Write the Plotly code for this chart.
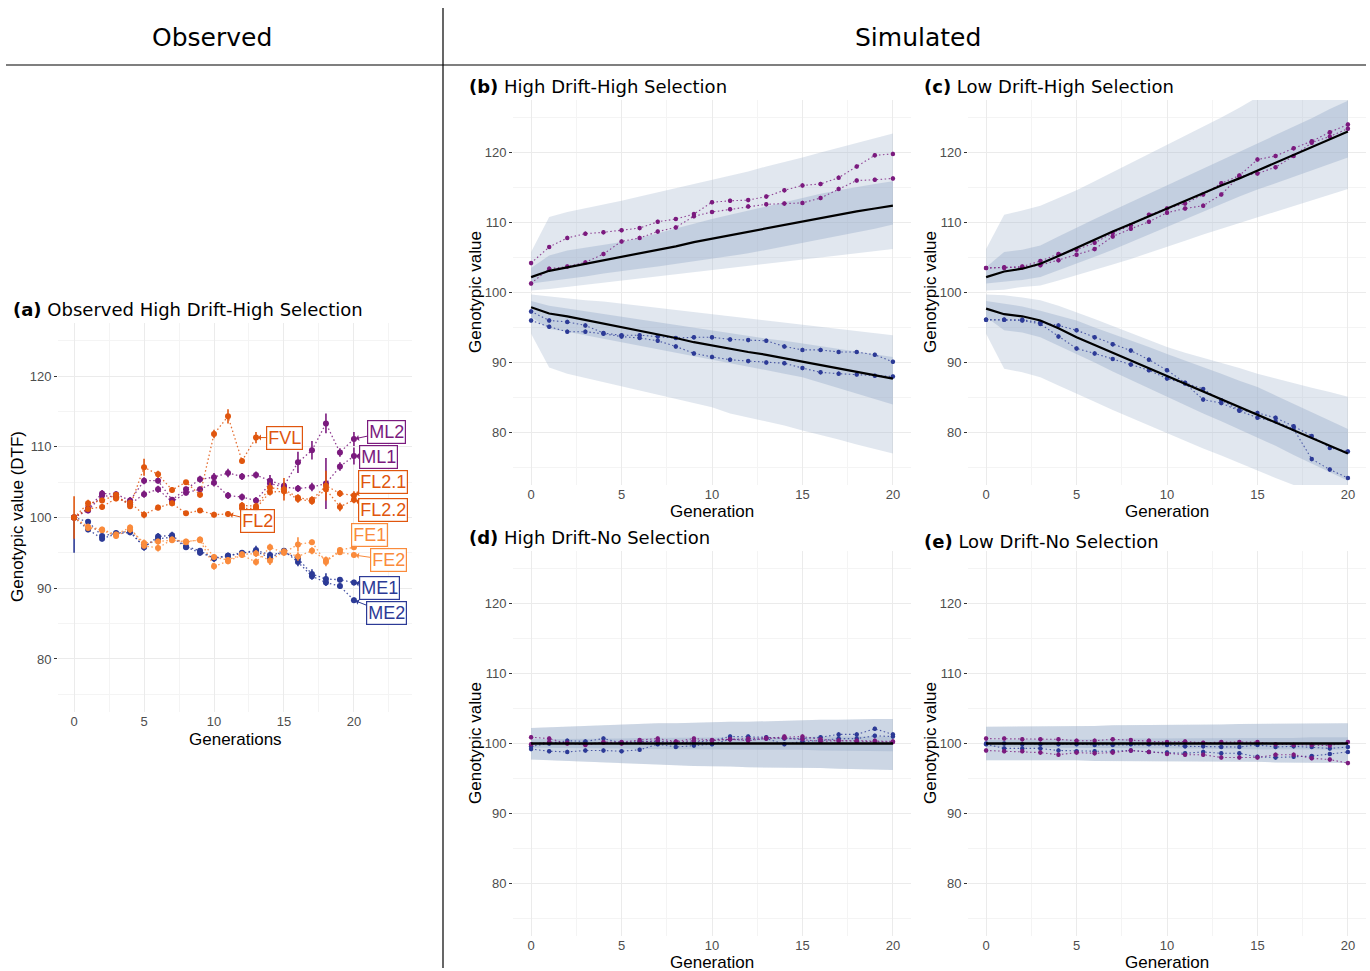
import plotly.graph_objects as go

W, H = 1370, 971

generations = [0, 1, 2, 3, 4, 5, 6, 7, 8, 9, 10, 11, 12, 13, 14, 15, 16, 17, 18, 19, 20]

# ---------------- Panel (a): observed ----------------
ML2 = [100, 101.3, 103.4, 103.3, 102.4, 105.2, 105.2, 102.5, 104.0, 105.4, 105.7, 106.3, 105.8, 106.0, 105.2, 104.5, 107.8, 109.5, 113.3, 109.2, 111.1]
ML2_err = [0.3, 0.4, 0.5, 0.4, 0.5, 0.5, 0.4, 0.4, 0.4, 0.5, 0.6, 0.6, 0.5, 0.5, 0.8, 0.5, 1.5, 1.3, 1.4, 0.6, 1.0]
ML1 = [100, 101.0, 103.1, 102.9, 101.9, 103.3, 104.0, 102.2, 103.5, 104.0, 104.9, 103.1, 102.9, 102.4, 104.8, 104.3, 104.1, 104.3, 104.8, 107.2, 108.7]
ML1_err = [0.3, 0.4, 0.5, 0.4, 0.4, 0.5, 0.5, 0.4, 0.4, 0.4, 0.5, 0.5, 0.5, 0.5, 0.6, 0.5, 0.5, 0.6, 3.6, 0.6, 1.2]
FVL = [100, 102.0, 102.4, 103.2, 101.6, 107.1, 106.1, 103.9, 105.0, 103.2, 111.8, 114.3, 108.0, 111.3]
FVL_err = [3.0, 0.5, 0.4, 0.4, 0.4, 1.2, 0.5, 0.4, 0.3, 0.4, 0.6, 1.0, 0.4, 0.8]
FL2 = [100, 101.2, 101.5, 102.7, 102.1, 100.4, 101.4, 102.0, 100.6, 101.0, 100.4, 100.5]
FL2_err = [0.3, 0.4, 0.4, 0.4, 0.4, 0.5, 0.4, 0.4, 0.3, 0.3, 0.4, 0.4]
FL2_1 = [101.7, 101.6, 104.2, 104.0, 102.8, 102.5, 104.5, 103.4, 103.1]
FL2_1_err = [0.5, 0.5, 0.7, 1.6, 0.5, 0.5, 2.1, 0.5, 0.6]
FL2_2 = [101.3, 101.3, 103.6, 103.7, 102.6, 102.3, 104.0, 101.5, 102.5]
FL2_2_err = [0.5, 0.5, 0.5, 0.6, 0.5, 0.5, 0.8, 0.6, 0.5]
FE1 = [100, 98.5, 98.2, 97.4, 98.3, 96.4, 96.6, 96.8, 96.6, 96.8, 93.1, 93.8, 94.7, 93.7, 95.8, 95.0, 96.2, 96.5, 93.7, 95.4, 95.8]
FE1_err = [0.3, 0.4, 0.4, 0.4, 0.5, 0.5, 0.4, 0.4, 0.4, 0.4, 0.5, 0.4, 0.4, 0.5, 0.5, 0.4, 1.0, 0.4, 0.6, 0.4, 0.4]
FE2 = [100, 98.7, 98.3, 97.6, 98.6, 96.0, 95.7, 96.9, 96.5, 96.9, 94.4, 94.0, 94.8, 94.9, 93.9, 95.2, 94.5, 95.3, 94.0, 95.1, 94.7]
FE2_err = [0.3, 0.4, 0.4, 0.4, 0.4, 0.4, 0.5, 0.4, 0.4, 0.4, 0.4, 0.4, 0.4, 0.5, 0.6, 0.4, 0.6, 0.5, 0.5, 0.4, 0.4]
ME1 = [100, 99.4, 97.4, 97.8, 98.1, 95.8, 97.3, 97.5, 95.9, 95.3, 94.2, 94.6, 94.9, 95.4, 94.7, 95.1, 94.2, 92.0, 91.3, 91.2, 90.8]
ME1_err = [0.3, 0.4, 0.5, 0.4, 0.4, 0.5, 0.5, 0.5, 0.4, 0.4, 0.5, 0.4, 0.4, 0.6, 0.5, 0.4, 0.5, 0.7, 0.8, 0.4, 0.4]
ME1_err_minus = [5.0, 0.4, 0.5, 0.4, 0.4, 0.5, 0.5, 0.5, 0.4, 0.4, 0.5, 0.4, 0.4, 0.6, 0.5, 0.4, 0.5, 0.7, 0.8, 0.4, 0.4]
ME2 = [100, 98.3, 97.0, 97.7, 97.9, 95.9, 97.0, 97.2, 95.8, 95.0, 94.3, 94.6, 95.0, 95.2, 94.3, 95.3, 93.7, 91.7, 90.8, 90.3, 88.3]
ME2_err = [0.3, 0.4, 0.4, 0.4, 0.4, 0.4, 0.4, 0.4, 0.4, 0.4, 0.4, 0.4, 0.4, 0.4, 0.5, 0.4, 0.6, 0.5, 0.5, 0.4, 0.4]

# ---------------- Panel (b): High Drift-High Selection ----------------
b_up_mean = [102.2, 103.1, 103.6, 104.1, 104.6, 105.0, 105.6, 106.1, 106.6, 107.2, 107.7, 108.2, 108.7, 109.2, 109.7, 110.2, 110.7, 111.2, 111.6, 112.0, 112.4]
b_up_in_lo = [101.3, 101.7, 102.0, 102.3, 102.7, 103.1, 103.4, 103.7, 104.1, 104.4, 104.8, 105.2, 105.6, 106.1, 106.5, 107.0, 107.5, 108.0, 108.6, 109.1, 109.7]
b_up_in_hi = [103.5, 105.3, 106.0, 106.4, 106.8, 107.2, 107.8, 108.5, 109.2, 109.9, 110.5, 111.1, 111.7, 112.3, 113.0, 113.6, 114.1, 114.6, 115.1, 115.5, 115.9]
b_up_out_lo = [100.3, 100.5, 100.8, 101.1, 101.4, 101.7, 102.0, 102.2, 102.5, 102.8, 103.1, 103.4, 103.7, 104.0, 104.4, 104.7, 105.0, 105.3, 105.6, 105.9, 106.2]
b_up_out_hi = [105.8, 110.8, 111.5, 112.0, 112.6, 113.1, 113.7, 114.3, 114.9, 115.5, 116.0, 116.6, 117.3, 118.0, 118.6, 119.3, 120.0, 120.7, 121.4, 122.0, 122.7]
b_dn_mean = [97.9, 97.0, 96.6, 96.1, 95.5, 95.0, 94.5, 94.0, 93.5, 92.9, 92.4, 91.9, 91.5, 91.1, 90.6, 90.2, 89.7, 89.2, 88.7, 88.2, 87.7]
b_dn_in_hi = [98.8, 98.1, 97.7, 97.3, 96.9, 96.5, 96.1, 95.7, 95.3, 94.9, 94.6, 94.2, 93.8, 93.4, 93.1, 92.7, 92.3, 91.9, 91.5, 91.2, 90.8]
b_dn_in_lo = [96.5, 94.8, 94.4, 93.9, 93.4, 92.9, 92.4, 91.9, 91.4, 91.0, 90.5, 90.0, 89.4, 88.9, 88.4, 87.9, 87.2, 86.4, 85.6, 84.8, 84.0]
b_dn_out_hi = [99.7, 99.4, 99.2, 98.9, 98.7, 98.4, 98.1, 97.8, 97.6, 97.3, 97.0, 96.7, 96.4, 96.1, 95.8, 95.5, 95.2, 94.9, 94.6, 94.2, 93.9]
b_dn_out_lo = [94.1, 89.3, 88.4, 87.7, 87.1, 86.5, 85.9, 85.4, 84.8, 84.2, 83.6, 82.7, 82.2, 81.6, 81.0, 80.3, 79.6, 79.0, 78.3, 77.6, 77.0]
b_late1 = [104.2, 106.5, 107.8, 108.4, 108.6, 108.9, 109.2, 110.1, 110.5, 111.2, 112.9, 113.1, 113.2, 113.7, 114.6, 115.3, 115.5, 116.4, 118.0, 119.6, 119.8]
b_late2 = [101.3, 103.4, 103.7, 104.3, 105.5, 107.3, 107.8, 108.7, 109.3, 110.9, 111.5, 111.9, 112.3, 112.6, 112.7, 112.8, 113.5, 114.8, 116.0, 116.1, 116.3]
b_early1 = [97.3, 96.0, 95.8, 95.3, 94.2, 93.9, 93.9, 93.7, 93.5, 93.6, 93.6, 93.3, 93.2, 93.1, 92.3, 91.8, 91.8, 91.5, 91.5, 91.1, 90.1]
b_early2 = [96.0, 95.1, 94.4, 94.4, 94.1, 93.7, 93.5, 93.1, 92.3, 91.3, 90.8, 90.4, 90.2, 90.0, 89.9, 89.2, 88.6, 88.4, 88.3, 88.1, 88.0]

# ---------------- Panel (c): Low Drift-High Selection ----------------
c_up_mean = [102.2, 103.0, 103.4, 104.1, 105.2, 106.4, 107.5, 108.7, 109.8, 110.9, 112.1, 113.1, 114.2, 115.3, 116.3, 117.4, 118.5, 119.6, 120.7, 121.9, 123.0]
c_up_in_lo = [101.3, 101.5, 101.8, 102.2, 103.1, 104.1, 105.1, 106.1, 107.2, 108.2, 109.3, 110.4, 111.5, 112.6, 113.7, 114.7, 115.6, 116.5, 117.5, 118.4, 119.3]
c_up_in_hi = [103.6, 105.8, 106.1, 106.7, 108.0, 109.3, 110.5, 111.7, 112.9, 114.1, 115.3, 116.5, 117.7, 118.9, 120.1, 121.2, 122.4, 123.7, 124.9, 126.2, 127.4]
c_up_out_lo = [100.3, 100.4, 100.8, 101.0, 101.7, 102.4, 103.2, 104.0, 104.8, 105.7, 106.5, 107.4, 108.3, 109.1, 110.0, 110.8, 111.6, 112.4, 113.2, 114.0, 114.8]
c_up_out_hi = [106.2, 111.1, 111.7, 112.4, 113.5, 114.6, 115.9, 117.2, 118.5, 119.7, 121.0, 122.3, 123.6, 125.0, 126.4, 127.9, 129.2, 130.5, 131.8, 133.1, 134.4]
c_dn_mean = [97.7, 96.9, 96.6, 96.0, 94.9, 93.6, 92.5, 91.4, 90.3, 89.1, 88.0, 86.9, 85.8, 84.7, 83.7, 82.6, 81.5, 80.4, 79.3, 78.1, 77.0]
c_dn_in_hi = [98.8, 98.4, 98.0, 97.4, 96.7, 96.0, 95.0, 94.1, 93.1, 92.2, 91.2, 90.3, 89.3, 88.4, 87.4, 86.5, 85.3, 84.1, 82.9, 81.7, 80.5]
c_dn_in_lo = [96.5, 94.6, 94.3, 93.6, 92.4, 91.2, 90.0, 88.7, 87.5, 86.2, 85.0, 83.9, 82.7, 81.6, 80.4, 79.3, 78.1, 76.8, 75.6, 74.3, 73.1]
c_dn_out_hi = [99.7, 99.6, 99.3, 98.9, 98.1, 97.2, 96.2, 95.2, 94.2, 93.2, 92.2, 91.4, 90.7, 89.9, 89.2, 88.4, 87.7, 87.1, 86.4, 85.8, 85.1]
c_dn_out_lo = [94.1, 89.1, 88.6, 87.9, 86.7, 85.5, 84.4, 83.2, 82.1, 80.9, 79.8, 78.8, 77.7, 76.7, 75.6, 74.6, 73.5, 72.5, 71.4, 70.4, 69.3]
c_late1 = [103.5, 103.6, 103.7, 104.5, 105.5, 106.1, 107.1, 108.5, 109.6, 111.1, 112.0, 112.7, 114.0, 115.6, 116.7, 119.0, 119.5, 120.6, 121.6, 122.9, 124.0]
c_late2 = [103.5, 103.5, 103.6, 103.9, 104.6, 105.4, 106.2, 108.0, 109.1, 110.1, 111.4, 112.0, 112.4, 114.0, 116.6, 117.0, 117.9, 119.5, 121.4, 122.3, 123.4]
c_early1 = [96.1, 96.1, 96.1, 95.7, 95.3, 94.6, 93.6, 92.6, 91.7, 90.4, 88.9, 87.1, 86.2, 84.6, 83.2, 82.8, 82.1, 80.9, 79.5, 77.8, 77.3]
c_early2 = [96.1, 96.1, 96.0, 95.5, 93.7, 92.0, 91.3, 90.5, 89.7, 88.9, 87.7, 87.0, 84.7, 84.2, 83.1, 82.1, 81.6, 80.5, 76.2, 74.7, 73.5]

# ---------------- Panel (d): High Drift-No Selection ----------------
d_mean = [100.0, 100.0, 100.0, 100.0, 100.0, 100.0, 100.0, 100.0, 100.0, 100.0, 100.0, 100.0, 100.0, 100.0, 100.0, 100.0, 100.0, 100.0, 100.0, 100.0, 100.0]
d_out_hi = [102.2, 102.3, 102.4, 102.5, 102.6, 102.8, 102.8, 102.9, 102.9, 103.0, 103.0, 103.1, 103.1, 103.2, 103.3, 103.4, 103.4, 103.4, 103.5, 103.5, 103.5]
d_out_lo = [97.7, 97.6, 97.5, 97.4, 97.3, 97.2, 97.1, 97.0, 96.9, 96.8, 96.7, 96.7, 96.6, 96.6, 96.6, 96.5, 96.5, 96.4, 96.3, 96.3, 96.2]
d_in_hi = [100.6, 100.6, 100.7, 100.7, 100.7, 100.7, 100.8, 100.8, 100.8, 100.8, 100.8, 100.9, 100.9, 100.9, 100.9, 100.9, 101.0, 101.0, 101.0, 101.0, 101.0]
d_in_lo = [99.4, 99.4, 99.3, 99.3, 99.3, 99.3, 99.2, 99.2, 99.2, 99.2, 99.2, 99.1, 99.1, 99.1, 99.1, 99.1, 99.0, 99.0, 99.0, 98.9, 98.9]
d_late1 = [100.9, 100.7, 100.0, 99.9, 100.2, 100.2, 100.5, 100.7, 100.3, 100.7, 100.5, 100.6, 100.7, 100.8, 101.0, 101.0, 100.6, 100.4, 100.4, 100.4, 100.3]
d_late2 = [99.9, 100.2, 100.1, 99.8, 100.1, 100.0, 100.2, 100.4, 100.2, 100.4, 100.4, 100.6, 100.4, 100.7, 100.8, 100.6, 100.3, 100.4, 100.3, 100.3, 100.2]
d_early1 = [99.6, 100.0, 100.4, 100.3, 100.7, 100.1, 100.3, 100.3, 100.1, 100.2, 100.4, 101.0, 101.0, 100.9, 100.7, 100.7, 100.9, 101.3, 101.3, 102.1, 101.3]
d_early2 = [99.2, 98.9, 98.8, 99.0, 99.0, 98.9, 99.1, 99.9, 99.5, 99.7, 99.9, 100.6, 100.5, 100.7, 99.9, 100.3, 100.4, 100.7, 100.7, 101.1, 101.0]

# ---------------- Panel (e): Low Drift-No Selection ----------------
e_mean = [100.0, 100.0, 100.0, 100.0, 100.0, 100.0, 100.0, 100.0, 100.0, 100.0, 100.0, 100.0, 100.0, 100.0, 100.0, 100.0, 100.0, 100.0, 100.0, 100.0, 100.0]
e_out_hi = [102.4, 102.4, 102.4, 102.5, 102.5, 102.5, 102.5, 102.6, 102.6, 102.6, 102.7, 102.7, 102.7, 102.7, 102.8, 102.8, 102.8, 102.8, 102.9, 102.9, 102.9]
e_out_lo = [97.6, 97.6, 97.6, 97.6, 97.6, 97.6, 97.5, 97.5, 97.5, 97.5, 97.5, 97.5, 97.4, 97.4, 97.4, 97.4, 97.3, 97.3, 97.3, 97.2, 97.2]
e_in_hi = [100.5, 100.5, 100.5, 100.6, 100.6, 100.6, 100.6, 100.6, 100.7, 100.7, 100.7, 100.7, 100.7, 100.8, 100.8, 100.8, 100.8, 100.8, 100.9, 100.9, 100.9]
e_in_lo = [99.5, 99.5, 99.5, 99.4, 99.4, 99.4, 99.4, 99.4, 99.3, 99.3, 99.3, 99.3, 99.3, 99.2, 99.2, 99.2, 99.2, 99.2, 99.1, 99.1, 99.1]
e_late1 = [100.7, 100.7, 100.6, 100.6, 100.6, 100.4, 100.4, 100.6, 100.5, 100.4, 100.2, 100.3, 100.1, 100.2, 100.2, 100.2, 99.9, 99.8, 99.8, 99.7, 100.2]
e_late2 = [99.0, 98.9, 98.9, 98.7, 98.4, 98.7, 98.6, 98.7, 99.0, 98.8, 98.5, 98.4, 98.4, 98.0, 98.0, 98.0, 98.4, 98.4, 97.9, 97.7, 97.2]
e_early1 = [100.0, 100.0, 99.9, 99.9, 99.9, 99.9, 99.8, 99.8, 99.9, 99.9, 99.8, 99.6, 99.6, 99.5, 99.5, 99.8, 99.5, 99.6, 99.5, 99.3, 99.5]
e_early2 = [99.9, 99.3, 99.3, 99.3, 99.0, 98.9, 98.9, 98.9, 99.0, 98.8, 98.7, 98.6, 98.8, 98.6, 98.6, 98.1, 98.0, 98.1, 98.2, 98.5, 98.8]

# ---------------- styling ----------------
PURPLE = "#7B1A7E"
BLUE = "#2C3A96"
DORANGE = "#E0560E"
LORANGE = "#FA8B3C"
BAND_OUT = "rgba(155,175,202,0.30)"
BAND_IN = "rgba(155,175,202,0.42)"
SANS = "Liberation Sans"
DJV = "DejaVu Sans"
DOTS = "1.5px,2.5px"


def rgba(hexc, a):
    h = hexc.lstrip("#")
    return "rgba(%d,%d,%d,%.2f)" % (int(h[0:2], 16), int(h[2:4], 16), int(h[4:6], 16), a)


def px_x(p):
    return p / W


def px_y(p):
    return 1 - p / H


fig = go.Figure()


def obs_series(x, y, err, color, err_minus=None):
    ey = dict(type="data", array=err, color=color, thickness=1.6, width=0)
    if err_minus is not None:
        ey["symmetric"] = False
        ey["arrayminus"] = err_minus
    fig.add_trace(go.Scatter(
        x=x, y=y, mode="lines+markers",
        line=dict(color=rgba(color, 0.85), width=1.3, dash=DOTS),
        marker=dict(color=color, size=6),
        error_y=ey, xaxis="x", yaxis="y",
        showlegend=False, hoverinfo="skip"))


obs_series(generations, ME2, ME2_err, BLUE)
obs_series(generations, ME1, ME1_err, BLUE, ME1_err_minus)
obs_series(generations, FE2, FE2_err, LORANGE)
obs_series(generations, FE1, FE1_err, LORANGE)
obs_series(generations, ML1, ML1_err, PURPLE)
obs_series(generations, ML2, ML2_err, PURPLE)
obs_series(generations[12:], FL2_2, FL2_2_err, DORANGE)
obs_series(generations[12:], FL2_1, FL2_1_err, DORANGE)
obs_series(generations[:12], FL2, FL2_err, DORANGE)
obs_series(generations[:14], FVL, FVL_err, DORANGE)


def band(lo, hi, color, xa, ya):
    fig.add_trace(go.Scatter(
        x=generations + generations[::-1], y=hi + lo[::-1],
        fill="toself", fillcolor=color, line=dict(width=0),
        mode="lines", xaxis=xa, yaxis=ya, showlegend=False, hoverinfo="skip"))


def sim_series(y, color, xa, ya):
    fig.add_trace(go.Scatter(
        x=generations, y=y, mode="lines+markers",
        line=dict(color=rgba(color, 0.8), width=1.1, dash=DOTS),
        marker=dict(color=color, size=4.5),
        error_y=dict(type="constant", value=0.3, color=color, thickness=1.2, width=0),
        xaxis=xa, yaxis=ya, showlegend=False, hoverinfo="skip"))


def mean_line(y, xa, ya):
    fig.add_trace(go.Scatter(
        x=generations, y=y, mode="lines", line=dict(color="black", width=2.2),
        xaxis=xa, yaxis=ya, showlegend=False, hoverinfo="skip"))


panels = [
    ("x2", "y2",
     [(b_up_out_lo, b_up_out_hi, BAND_OUT), (b_dn_out_lo, b_dn_out_hi, BAND_OUT),
      (b_up_in_lo, b_up_in_hi, BAND_IN), (b_dn_in_lo, b_dn_in_hi, BAND_IN)],
     [b_late1, b_late2], [b_early1, b_early2], [b_up_mean, b_dn_mean]),
    ("x3", "y3",
     [(c_up_out_lo, c_up_out_hi, BAND_OUT), (c_dn_out_lo, c_dn_out_hi, BAND_OUT),
      (c_up_in_lo, c_up_in_hi, BAND_IN), (c_dn_in_lo, c_dn_in_hi, BAND_IN)],
     [c_late1, c_late2], [c_early1, c_early2], [c_up_mean, c_dn_mean]),
    ("x4", "y4",
     [(d_out_lo, d_out_hi, BAND_OUT), (d_out_lo, d_out_hi, BAND_OUT),
      (d_in_lo, d_in_hi, BAND_IN)],
     [d_late1, d_late2], [d_early1, d_early2], [d_mean, d_mean]),
    ("x5", "y5",
     [(e_out_lo, e_out_hi, BAND_OUT), (e_out_lo, e_out_hi, BAND_OUT),
      (e_in_lo, e_in_hi, BAND_IN)],
     [e_late1, e_late2], [e_early1, e_early2], [e_mean, e_mean]),
]

for xa, ya, bands, lates, earlies, means in panels:
    for lo, hi, col in bands:
        band(lo, hi, col, xa, ya)
    for s in earlies:
        sim_series(s, BLUE, xa, ya)
    for s in lates:
        sim_series(s, PURPLE, xa, ya)
    for m in means:
        mean_line(m, xa, ya)


# ---------------- axes ----------------
def xaxis(dom, rng, anchor):
    return dict(domain=dom, range=rng, anchor=anchor, tickmode="array",
                tickvals=[0, 5, 10, 15, 20], ticks="", showline=False, zeroline=False,
                showgrid=True, gridcolor="#EBEBEB", gridwidth=1,
                minor=dict(showgrid=True, gridcolor="#F4F4F4", gridwidth=0.8, dtick=2.5, tick0=0),
                tickfont=dict(family=SANS, size=13, color="#4D4D4D"), ticklabelstandoff=0)


def yaxis(dom, anchor):
    return dict(domain=dom, range=[72.5, 127.5], anchor=anchor, tickmode="array",
                tickvals=[80, 90, 100, 110, 120], ticks="outside", ticklen=3,
                tickcolor="#333333", tickwidth=1, showline=False, zeroline=False,
                showgrid=True, gridcolor="#EBEBEB", gridwidth=1,
                minor=dict(showgrid=True, gridcolor="#F4F4F4", gridwidth=0.8, dtick=5, tick0=0),
                tickfont=dict(family=SANS, size=13, color="#4D4D4D"))


xa_dom = [px_x(58), px_x(412)]
xb_dom = [px_x(513), px_x(911)]
xc_dom = [px_x(968), px_x(1366)]
ya_dom = [px_y(712), px_y(323)]
yt_dom = [px_y(485), px_y(100)]
yb_dom = [px_y(936), px_y(551)]

fig.update_layout(
    width=W, height=H, margin=dict(l=0, r=0, t=0, b=0),
    paper_bgcolor="white", plot_bgcolor="white", showlegend=False,
    xaxis=xaxis(xa_dom, [-1.15, 24.15], "y"),
    yaxis=yaxis(ya_dom, "x"),
    xaxis2=xaxis(xb_dom, [-1, 21], "y2"),
    yaxis2=yaxis(yt_dom, "x2"),
    xaxis3=xaxis(xc_dom, [-1, 21], "y3"),
    yaxis3=yaxis(yt_dom, "x3"),
    xaxis4=xaxis(xb_dom, [-1, 21], "y4"),
    yaxis4=yaxis(yb_dom, "x4"),
    xaxis5=xaxis(xc_dom, [-1, 21], "y5"),
    yaxis5=yaxis(yb_dom, "x5"),
)

ann = []


def text(x, y, s, size, family, anchor="center", angle=0, color="black"):
    ann.append(dict(x=px_x(x), y=px_y(y), xref="paper", yref="paper", text=s,
                    showarrow=False, xanchor=anchor, yanchor="middle", textangle=angle,
                    font=dict(family=family, size=size, color=color)))


# headers
text(212, 38, "Observed", 25, DJV)
text(918, 38, "Simulated", 25, DJV)
# subtitles
text(11, 310, "<b>(a)</b> Observed High Drift-High Selection", 18, DJV, "left")
text(467, 86, "<b>(b)</b> High Drift-High Selection", 18, DJV, "left")
text(922, 86, "<b>(c)</b> Low Drift-High Selection", 18, DJV, "left")
text(467, 537, "<b>(d)</b> High Drift-No Selection", 18, DJV, "left")
text(922, 541, "<b>(e)</b> Low Drift-No Selection", 18, DJV, "left")
# axis titles
text(235, 739, "Generations", 17, SANS)
text(17, 517, "Genotypic value (DTF)", 17, SANS, angle=-90)
for cx in (712, 1167):
    text(cx, 511, "Generation", 17, SANS)
    text(cx, 962, "Generation", 17, SANS)
for cx in (475, 930):
    text(cx, 292, "Genotypic value", 17, SANS, angle=-90)
    text(cx, 743, "Genotypic value", 17, SANS, angle=-90)

# repel-style labels for observed lines
labels = [
    ("FVL", generations[13], FVL[13], DORANGE, 29, 0),
    ("ML2", generations[20], ML2[20], PURPLE, 33, -7),
    ("ML1", generations[20], ML1[20], PURPLE, 25, 1),
    ("FL2.1", generations[20], FL2_1[-1], DORANGE, 29, -14),
    ("FL2.2", generations[20], FL2_2[-1], DORANGE, 29, 10),
    ("FL2", generations[11], FL2[11], DORANGE, 29, 7),
    ("FE1", generations[20], FE1[20], LORANGE, 16, -12),
    ("FE2", generations[20], FE2[20], LORANGE, 35, 5),
    ("ME1", generations[20], ME1[20], BLUE, 26, 5),
    ("ME2", generations[20], ME2[20], BLUE, 33, 13),
]
for lab, gx, gy, col, ax, ay in labels:
    ann.append(dict(x=gx, y=gy, xref="x", yref="y", text=lab, showarrow=True,
                    ax=ax, ay=ay, arrowhead=1, arrowsize=1, arrowwidth=1, arrowcolor=col,
                    standoff=2, font=dict(family=SANS, size=18, color=col),
                    bordercolor=col, borderwidth=1.2, borderpad=1, bgcolor="rgba(255,255,255,0.9)"))

fig.update_layout(annotations=ann)

fig.update_layout(shapes=[
    dict(type="line", xref="paper", yref="paper", x0=px_x(6), x1=px_x(1366),
         y0=px_y(65), y1=px_y(65), line=dict(color="black", width=1.2)),
    dict(type="line", xref="paper", yref="paper", x0=px_x(443), x1=px_x(443),
         y0=px_y(8), y1=px_y(968), line=dict(color="black", width=1.2)),
])

fig.write_html("out.html", config={"displayModeBar": False},
               post_script="document.body.style.margin='0px';document.body.style.overflow='hidden';")
